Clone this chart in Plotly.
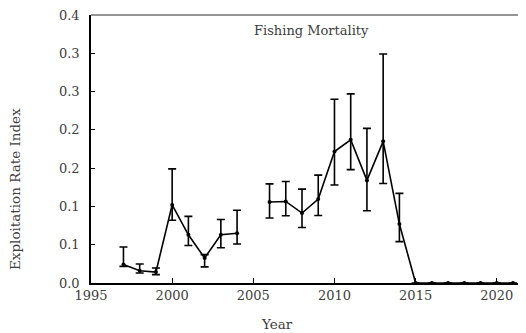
import plotly.graph_objects as go

years = list(range(1997, 2022))
values = [0.024, 0.016, 0.0143, 0.102, 0.063, 0.0326, 0.063, 0.065, None,
          0.1057, 0.1065, 0.0913, 0.1096, 0.1717, 0.187, 0.134, 0.185, 0.077,
          0, 0, 0, 0, 0, 0, 0]
upper = [0.047, 0.0248, 0.0196, 0.149, 0.087, 0.037, 0.083, 0.095, None,
         0.1295, 0.1326, 0.1226, 0.1409, 0.240, 0.247, 0.202, 0.299, 0.117,
         None, None, None, None, None, None, None]
lower = [0.0217, 0.013, 0.011, 0.082, 0.049, 0.021, 0.046, 0.051, None,
         0.0848, 0.0878, 0.0725, 0.0882, 0.128, 0.148, 0.0943, 0.130, 0.054,
         None, None, None, None, None, None, None]
y_ticks = [0, 0.05, 0.1, 0.15, 0.2, 0.25, 0.3, 0.35]
y_tick_labels = ["0.0", "0.1", "0.1", "0.2", "0.2", "0.3", "0.3", "0.4"]
x_ticks = [1995, 2000, 2005, 2010, 2015, 2020]

err_plus = [(u - v) if (u is not None and v is not None) else 0 for u, v in zip(upper, values)]
err_minus = [(v - l) if (l is not None and v is not None) else 0 for l, v in zip(lower, values)]

fig = go.Figure()
fig.add_trace(go.Scatter(
    x=years, y=values, mode="lines+markers",
    line=dict(color="black", width=1.6),
    marker=dict(color="black", size=4),
    connectgaps=False,
    error_y=dict(type="data", symmetric=False, array=err_plus, arrayminus=err_minus,
                 color="black", thickness=1.6, width=4),
    showlegend=False,
))

font_family = "DejaVu Serif"
text_color = "#404040"

# page body has an 8px margin; plot area spans page x 91..526, y 15..283
fig.update_layout(
    width=518, height=325,
    margin=dict(l=83, r=0, t=7, b=50),
    paper_bgcolor="white", plot_bgcolor="white",
    font=dict(family=font_family, size=13, color=text_color),
    xaxis=dict(range=[1995, 2021.8], tickvals=x_ticks, ticks="inside", ticklen=5,
               tickcolor="black", showline=True, linecolor="black", linewidth=1.5,
               showgrid=False, zeroline=False, ticklabeloverflow="allow",
               tickfont=dict(size=13, color=text_color)),
    yaxis=dict(range=[0, 0.35], tickvals=y_ticks, ticktext=y_tick_labels, ticks="inside",
               ticklen=4, tickcolor="black", showline=True, linecolor="black", linewidth=1.5,
               showgrid=False, zeroline=False, ticklabelstandoff=7, ticklabeloverflow="allow",
               tickfont=dict(size=13, color=text_color)),
    shapes=[dict(type="line", xref="paper", yref="paper", x0=0, x1=1, y0=1, y1=1,
                 line=dict(color="#707070", width=1.5))],
    annotations=[
        dict(text="Fishing Mortality", xref="paper", yref="paper", x=(311-91)/435, y=1-(30-15)/268,
             showarrow=False, xanchor="center", yanchor="middle", font=dict(size=13, color=text_color)),
        dict(text="Year", xref="paper", yref="paper", x=(277-91)/435, y=-(324-283)/268,
             showarrow=False, xanchor="center", yanchor="middle", font=dict(size=13.5, color=text_color)),
        dict(text="Exploitation Rate Index", xref="paper", yref="paper", x=-(91-15)/435,
             y=(283-189)/268, textangle=-90,
             showarrow=False, xanchor="center", yanchor="middle", font=dict(size=13.5, color=text_color)),
    ],
)

fig.write_html("out.html")
